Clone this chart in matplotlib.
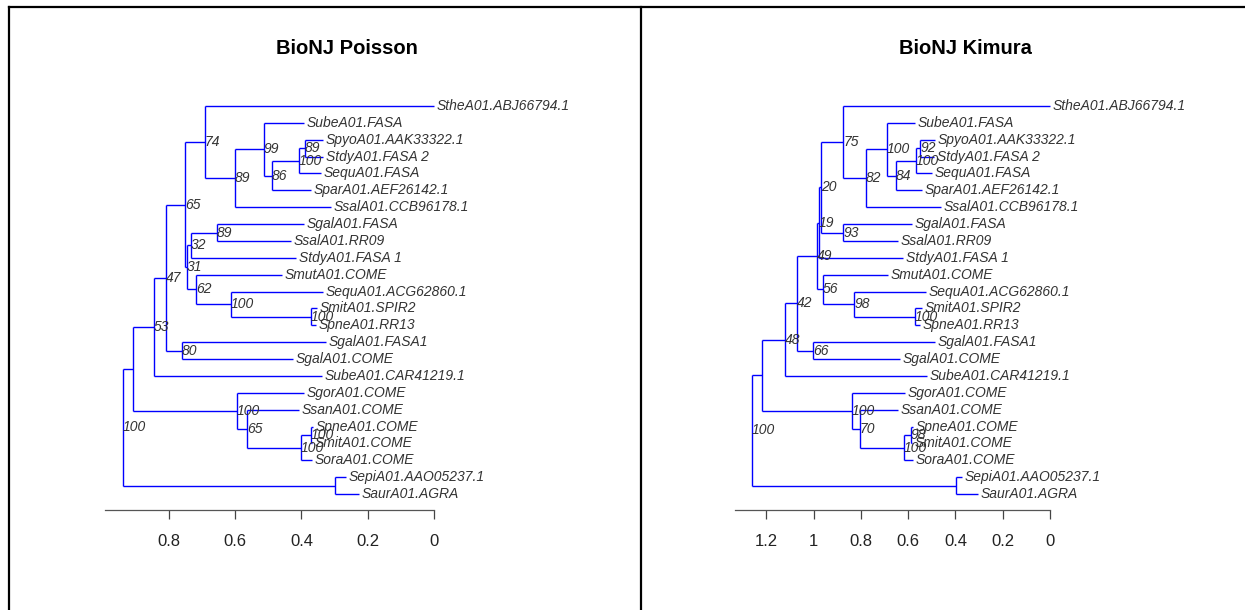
import matplotlib
matplotlib.use("Agg")
import matplotlib.pyplot as plt
from matplotlib.lines import Line2D

plt.rcParams['font.family'] = ['Liberation Sans', 'DejaVu Sans']

# BioNJ trees as Newick (underscore = space in tip names), bootstrap values as node labels
newick_poisson = (
    "(((((("
    "StheA01.ABJ66794.1:0.6908,"
    "((SubeA01.FASA:0.1207,"
    "(((SpyoA01.AAK33322.1:0.0543,StdyA01.FASA_2:0.0543)89:0.0181,SequA01.FASA:0.0664)100:0.0814,"
    "SparA01.AEF26142.1:0.1176)86:0.0241)99:0.0875,"
    "SsalA01.CCB96178.1:0.2896)89:0.0905)74:0.0603,"
    "(((SgalA01.FASA:0.2624,SsalA01.RR09:0.2232)89:0.0784,StdyA01.FASA_1:0.3167)32:0.0121,"
    "(SmutA01.COME:0.2594,(SequA01.ACG62860.1:0.2775,"
    "(SmitA01.SPIR2:0.0181,SpneA01.RR13:0.0151)100:0.2413)100:0.1056)62:0.0271)31:0.0060)65:0.0573,"
    "(SgalA01.FASA1:0.4344,SgalA01.COME:0.3348)80:0.0483)47:0.0362,"
    "SubeA01.CAR41219.1:0.5068)53:0.0633,"
    "(SgorA01.COME:0.2021,(SsanA01.COME:0.1569,((SpneA01.COME:0.0060,SmitA01.COME:0.0030)100:0.0302,"
    "SoraA01.COME:0.0332)100:0.1629)65:0.0302)100:0.3137):0.0302,"
    "(SepiA01.AAO05237.1:0.0332,SaurA01.AGRA:0.0724):0.6395)100;"
)

newick_kimura = (
    "(((((((("
    "StheA01.ABJ66794.1:0.8753,"
    "((SubeA01.FASA:0.1184,"
    "(((SpyoA01.AAK33322.1:0.0634,StdyA01.FASA_2:0.0592)92:0.0169,SequA01.FASA:0.0677)100:0.0846,"
    "SparA01.AEF26142.1:0.1099)84:0.0381)100:0.0888,"
    "SsalA01.CCB96178.1:0.3171)82:0.0973)75:0.0930,"
    "(SgalA01.FASA:0.2918,SsalA01.RR09:0.2326)93:0.0930)20:0.0085,"
    "StdyA01.FASA_1:0.3552)19:0.0085,"
    "(SmutA01.COME:0.2748,(SequA01.ACG62860.1:0.3044,"
    "(SmitA01.SPIR2:0.0296,SpneA01.RR13:0.0211)100:0.2579)98:0.1311)56:0.0254)49:0.0846,"
    "(SgalA01.FASA1:0.5159,SgalA01.COME:0.3679)66:0.0677)42:0.0507,"
    "SubeA01.CAR41219.1:0.6004)48:0.0973,"
    "(SgorA01.COME:0.2241,(SsanA01.COME:0.1607,((SpneA01.COME:0.0085,SmitA01.COME:0.0042)98:0.0296,"
    "SoraA01.COME:0.0381)100:0.1860)70:0.0338)100:0.3805):0.0423,"
    "(SepiA01.AAO05237.1:0.0254,SaurA01.AGRA:0.0930):0.8626)100;"
)

titles = ["BioNJ Poisson", "BioNJ Kimura"]
ticks_poisson = [0, 0.2, 0.4, 0.6, 0.8]
ticks_kimura = [0, 0.2, 0.4, 0.6, 0.8, 1, 1.2]
# plot width in branch-length units (tree + room for tip labels), like ape's x.lim
xlim_poisson = 1.351
xlim_kimura = 1.801

FIG_W, FIG_H = 1245, 610
panel_px = [(105, 589), (735, 1195)]
top_px, bottom_px = 90.5, 509.5
title_px = 49


def parse_newick(s):
    s = s.strip().rstrip(";")
    pos = 0

    def node():
        nonlocal pos
        n = {"children": [], "name": "", "length": 0.0}
        if s[pos] == "(":
            pos += 1
            while True:
                n["children"].append(node())
                if s[pos] == ",":
                    pos += 1
                    continue
                pos += 1
                break
        start = pos
        while pos < len(s) and s[pos] not in ",():":
            pos += 1
        n["name"] = s[start:pos].replace("_", " ")
        if pos < len(s) and s[pos] == ":":
            pos += 1
            start = pos
            while pos < len(s) and s[pos] not in ",()":
                pos += 1
            n["length"] = float(s[start:pos])
        return n

    return node()


def set_xy(n, x0, counter, out):
    n["x"] = x0 + n["length"]
    out.append(n)
    if n["children"]:
        for c in n["children"]:
            set_xy(c, n["x"], counter, out)
        n["y"] = sum(c["y"] for c in n["children"]) / len(n["children"])
    else:
        counter[0] += 1
        n["y"] = counter[0]


def draw_tree(ax, newick, title, ticks, xmax):
    tree = parse_newick(newick)
    tree["length"] = 0.0
    nodes = []
    set_xy(tree, 0.0, [0], nodes)
    ntip = sum(1 for n in nodes if not n["children"])
    max_depth = max(n["x"] for n in nodes)

    for n in nodes:
        if n["children"]:
            ys = [c["y"] for c in n["children"]]
            ax.plot([n["x"], n["x"]], [min(ys), max(ys)], color="blue", lw=1.0, solid_capstyle="butt")
            for c in n["children"]:
                ax.plot([n["x"], c["x"]], [c["y"], c["y"]], color="blue", lw=1.0, solid_capstyle="butt")
            if n["name"]:
                ax.text(n["x"], n["y"], n["name"], ha="left", va="center", style="italic",
                        fontsize=10, color="#333333", clip_on=False)
        else:
            ax.annotate(n["name"], (n["x"], n["y"]), xytext=(2, 0), textcoords="offset points",
                        ha="left", va="center", style="italic", fontsize=10, color="#333333",
                        annotation_clip=False)

    usr_left = -0.04 * xmax
    ax.set_xlim(usr_left, 1.04 * xmax)
    pad_y = 0.04 * (ntip - 1)
    ax.set_ylim(ntip + pad_y, 1 - pad_y)

    for side in ["left", "right", "top"]:
        ax.spines[side].set_visible(False)
    ax.spines["bottom"].set_bounds(usr_left, max_depth)
    ax.spines["bottom"].set_color("#555555")
    ax.spines["bottom"].set_linewidth(0.9)
    ax.set_yticks([])
    ax.set_xticks([max_depth - t for t in ticks])
    ax.set_xticklabels(["%g" % t for t in ticks])
    ax.tick_params(axis="x", direction="out", length=6.5, width=0.9, color="#444444",
                   labelsize=12, labelcolor="#222222", pad=11.3)

    h = bottom_px - top_px
    ax.text(0.5, 1 + (top_px - title_px) / h, title, transform=ax.transAxes,
            ha="center", va="center", fontsize=14.5, fontweight="bold", color="black")


fig = plt.figure(figsize=(FIG_W / 100, FIG_H / 100), dpi=100)

trees = [newick_poisson, newick_kimura]
ticks = [ticks_poisson, ticks_kimura]
xlims = [xlim_poisson, xlim_kimura]
for i in range(2):
    x0, x1 = panel_px[i]
    ax = fig.add_axes([x0 / FIG_W, (FIG_H - bottom_px) / FIG_H,
                       (x1 - x0) / FIG_W, (bottom_px - top_px) / FIG_H])
    ax.patch.set_alpha(0)
    draw_tree(ax, trees[i], titles[i], ticks[i], xlims[i])

# frame lines around the two panels
ytop = 1 - 7 / FIG_H
fig.add_artist(Line2D([9 / FIG_W, 1], [ytop, ytop], transform=fig.transFigure, color="black", lw=1.6))
fig.add_artist(Line2D([9 / FIG_W, 9 / FIG_W], [0, ytop], transform=fig.transFigure, color="black", lw=1.6))
fig.add_artist(Line2D([641 / FIG_W, 641 / FIG_W], [0, ytop], transform=fig.transFigure, color="black", lw=1.6))

fig.savefig("out.png", dpi=100)
